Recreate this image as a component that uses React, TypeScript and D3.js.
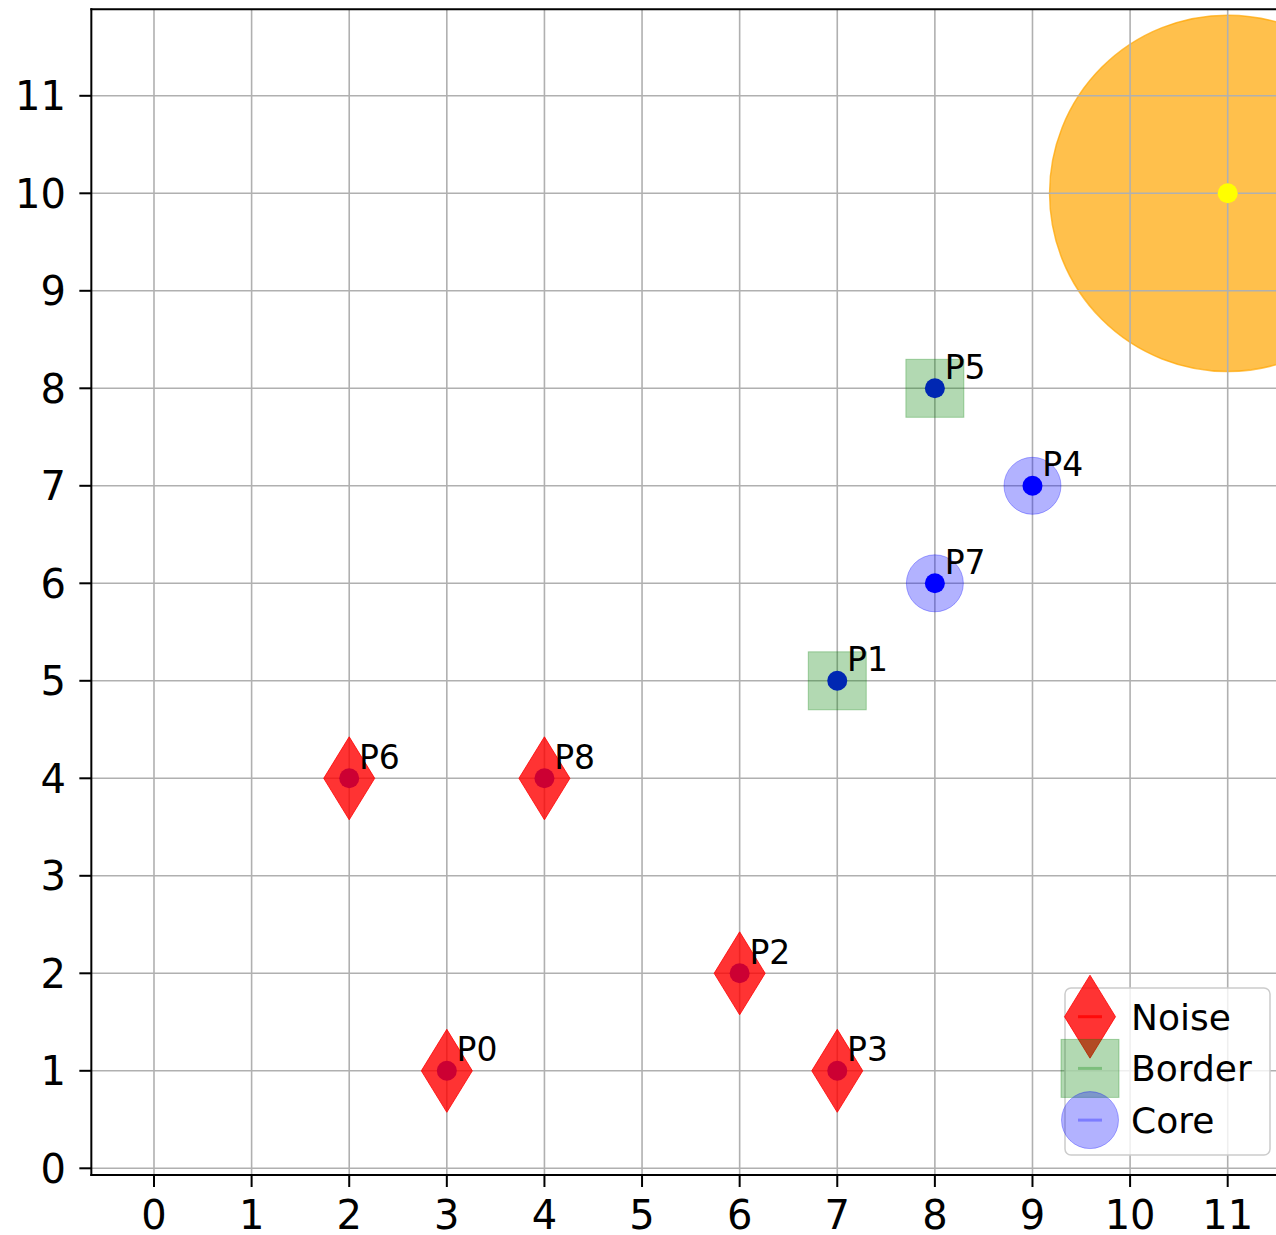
import React from "react";
import * as d3 from "d3";

const pointNames = ["P0", "P1", "P2", "P3", "P4", "P5", "P6", "P7", "P8"];
const pointX = [3, 7, 6, 7, 9, 8, 2, 8, 4];
const pointY = [1, 5, 2, 1, 7, 8, 4, 6, 4];
const pointType = ["Noise", "Border", "Noise", "Noise", "Core", "Border", "Noise", "Core", "Noise"];
const xTicks = [0, 1, 2, 3, 4, 5, 6, 7, 8, 9, 10, 11];
const yTicks = [0, 1, 2, 3, 4, 5, 6, 7, 8, 9, 10, 11];
const legendItems = ["Noise", "Border", "Core"];
const queryPoint = [11, 10];
const queryRadius = 1.825;

const FONT = "'DejaVu Sans', sans-serif";

function Marker({ type, cx, cy }: { type: string; cx: number; cy: number }) {
  if (type === "Noise") {
    const w = 25.5, h = 41.5;
    return (
      <path
        d={`M${cx},${cy - h}L${cx + w},${cy}L${cx},${cy + h}L${cx - w},${cy}Z`}
        fill="rgb(255,0,0)"
        fillOpacity={0.8}
        stroke="rgb(255,0,0)"
        strokeOpacity={0.8}
        strokeWidth={1}
      />
    );
  }
  if (type === "Border") {
    const s = 29;
    return (
      <rect x={cx - s} y={cy - s} width={2 * s} height={2 * s} fill="green" fillOpacity={0.3} stroke="green" strokeOpacity={0.3} strokeWidth={1} />
    );
  }
  return <circle cx={cx} cy={cy} r={28.5} fill="blue" fillOpacity={0.3} stroke="blue" strokeOpacity={0.3} strokeWidth={1} />;
}

export default function App() {
  const x = d3.scaleLinear().domain([0, 11]).range([154, 1227.7]);
  const y = d3.scaleLinear().domain([0, 10]).range([1168.3, 193.3]);
  const left = x(-0.642);
  const right = x(11.75);
  const top = y(11.887);
  const bottom = y(-0.069);
  const rPx = x(queryRadius) - x(0);

  const legendColors: Record<string, string> = { Noise: "rgb(255,0,0)", Border: "green", Core: "blue" };
  const legendLineOpacity: Record<string, number> = { Noise: 0.8, Border: 0.3, Core: 0.3 };

  return (
    <svg
      width={1276}
      height={1235}
      style={{ position: "absolute", left: 0, top: 0, background: "white" }}
      fontFamily={FONT}
    >
      <defs>
        <clipPath id="plotclip">
          <rect x={left} y={top} width={right - left} height={bottom - top} />
        </clipPath>
      </defs>
      <g clipPath="url(#plotclip)">
        <circle cx={x(queryPoint[0])} cy={y(queryPoint[1])} r={rPx} fill="orange" fillOpacity={0.7} stroke="orange" strokeOpacity={0.7} strokeWidth={1.5} />
        {xTicks.map((t) => (
          <line key={"gx" + t} x1={x(t)} x2={x(t)} y1={top} y2={bottom} stroke="#b0b0b0" strokeWidth={1.6} />
        ))}
        {yTicks.map((t) => (
          <line key={"gy" + t} x1={left} x2={right} y1={y(t)} y2={y(t)} stroke="#b0b0b0" strokeWidth={1.6} />
        ))}
        <circle cx={x(queryPoint[0])} cy={y(queryPoint[1])} r={10} fill="yellow" />
        {pointX.map((px, i) => (
          <circle key={"d" + i} cx={x(px)} cy={y(pointY[i])} r={10} fill="blue" />
        ))}
        {pointX.map((px, i) => (
          <Marker key={"m" + i} type={pointType[i]} cx={x(px)} cy={y(pointY[i])} />
        ))}
        {pointX.map((px, i) => (
          <text key={"t" + i} x={x(px + 0.1)} y={y(pointY[i] + 0.1)} fontSize={33} fill="black">
            {pointNames[i]}
          </text>
        ))}
      </g>
      {/* spines */}
      <line x1={left} x2={left} y1={top} y2={bottom} stroke="black" strokeWidth={2} strokeLinecap="square" />
      <line x1={left} x2={right} y1={top} y2={top} stroke="black" strokeWidth={2} strokeLinecap="square" />
      <line x1={left} x2={right} y1={bottom} y2={bottom} stroke="black" strokeWidth={2} strokeLinecap="square" />
      {/* x ticks */}
      {xTicks.map((t) => (
        <g key={"xt" + t}>
          <line x1={x(t)} x2={x(t)} y1={bottom} y2={bottom + 12} stroke="black" strokeWidth={2} />
          <text x={x(t)} y={1229} textAnchor="middle" fontSize={40} fill="black">
            {t}
          </text>
        </g>
      ))}
      {yTicks.map((t) => (
        <g key={"yt" + t}>
          <line x1={left - 12} x2={left} y1={y(t)} y2={y(t)} stroke="black" strokeWidth={2} />
          <text x={66} y={y(t) + 14.5} textAnchor="end" fontSize={40} fill="black">
            {t}
          </text>
        </g>
      ))}
      {/* legend */}
      <g>
        <rect x={1065} y={988} width={205} height={167} rx={6} fill="white" fillOpacity={0.8} stroke="#cccccc" strokeWidth={1.5} />
        {legendItems.map((item, i) => {
          const cy = 1016.7 + i * 51.7;
          const cx = 1090;
          return (
            <g key={"lg" + item}>
              <Marker type={item} cx={cx} cy={cy} />
              <line x1={cx - 12} x2={cx + 12} y1={cy} y2={cy} stroke={legendColors[item]} strokeOpacity={legendLineOpacity[item]} strokeWidth={3} />
              <text x={1131} y={cy + 13} fontSize={36} fill="black">
                {item}
              </text>
            </g>
          );
        })}
      </g>
    </svg>
  );
}
